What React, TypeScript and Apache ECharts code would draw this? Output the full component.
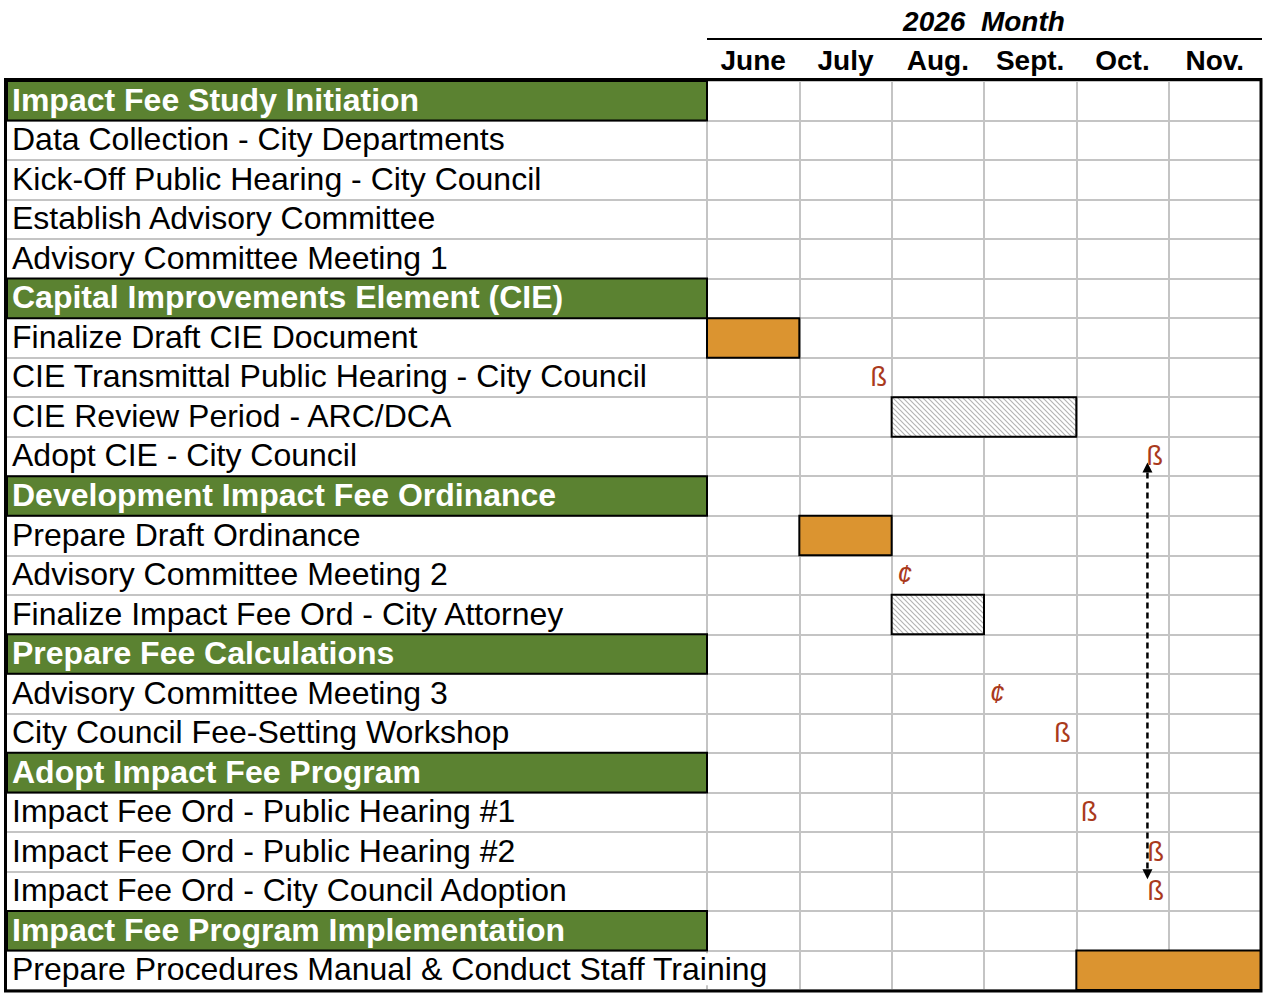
import React, { useEffect, useRef } from 'react';
import * as echarts from 'echarts';

const yearLabel = '2026  Month';
const months = ['June', 'July', 'Aug.', 'Sept.', 'Oct.', 'Nov.'];

const tasks = [
  'Impact Fee Study Initiation',
  'Data Collection - City Departments',
  'Kick-Off Public Hearing - City Council',
  'Establish Advisory Committee',
  'Advisory Committee Meeting 1',
  'Capital Improvements Element (CIE)',
  'Finalize Draft CIE Document',
  'CIE Transmittal Public Hearing - City Council',
  'CIE Review Period - ARC/DCA',
  'Adopt CIE - City Council',
  'Development Impact Fee Ordinance',
  'Prepare Draft Ordinance',
  'Advisory Committee Meeting 2',
  'Finalize Impact Fee Ord - City Attorney',
  'Prepare Fee Calculations',
  'Advisory Committee Meeting 3',
  'City Council Fee-Setting Workshop',
  'Adopt Impact Fee Program',
  'Impact Fee Ord - Public Hearing #1',
  'Impact Fee Ord - Public Hearing #2',
  'Impact Fee Ord - City Council Adoption',
  'Impact Fee Program Implementation',
  'Prepare Procedures Manual & Conduct Staff Training',
];

const phases = [
  'Impact Fee Study Initiation',
  'Capital Improvements Element (CIE)',
  'Development Impact Fee Ordinance',
  'Prepare Fee Calculations',
  'Adopt Impact Fee Program',
  'Impact Fee Program Implementation',
];

// bars: month offsets (0 = start of June)
const barTasks = [
  'Finalize Draft CIE Document',
  'CIE Review Period - ARC/DCA',
  'Prepare Draft Ordinance',
  'Finalize Impact Fee Ord - City Attorney',
  'Prepare Procedures Manual & Conduct Staff Training',
];
const barStart = [0, 2, 1, 2, 4];
const barEnd = [1, 4, 2, 3, 6];
const barKind = ['work', 'review', 'work', 'review', 'work'];

// milestone markers
const markerTasks = [
  'CIE Transmittal Public Hearing - City Council',
  'Adopt CIE - City Council',
  'Advisory Committee Meeting 2',
  'Advisory Committee Meeting 3',
  'City Council Fee-Setting Workshop',
  'Impact Fee Ord - Public Hearing #1',
  'Impact Fee Ord - Public Hearing #2',
  'Impact Fee Ord - City Council Adoption',
];
const markerMonth = [1.86, 4.85, 2.14, 3.14, 3.85, 4.14, 4.86, 4.86];
const markerGlyph = ['ß', 'ß', '¢', '¢', 'ß', 'ß', 'ß', 'ß'];

// dependency arrow
const arrowFrom = 'Adopt CIE - City Council';
const arrowTo = 'Impact Fee Ord - City Council Adoption';
const arrowMonth = 4.77;

const FONT = '"Liberation Sans", Arial, Helvetica, sans-serif';
const GREEN = '#5B8231';
const ORANGE = '#DB9430';
const MARK = '#AA3A1C';
const GRID = '#C4C4C4';

function makeHatch() {
  const s = 5;
  const c = document.createElement('canvas');
  c.width = s;
  c.height = s;
  const ctx = c.getContext('2d')!;
  ctx.fillStyle = '#ffffff';
  ctx.fillRect(0, 0, s, s);
  ctx.strokeStyle = '#b4b4b4';
  ctx.lineWidth = 1.2;
  ctx.beginPath();
  ctx.moveTo(-1, -1);
  ctx.lineTo(s + 1, s + 1);
  ctx.moveTo(-s - 1, -1);
  ctx.lineTo(1, s + 1);
  ctx.moveTo(s - 1, -1);
  ctx.lineTo(2 * s + 1, s + 1);
  ctx.stroke();
  return c;
}

export default function App() {
  const ref = useRef<HTMLDivElement>(null);

  useEffect(() => {
    document.body.style.margin = '0';
    if (!ref.current) return;
    const chart = echarts.init(ref.current, null, { renderer: 'svg' });
    const hatch = makeHatch();

    const labelData = tasks.map((t, i) => [0, i, phases.includes(t) ? 1 : 0]);
    const barData = barTasks.map((t, i) => [
      barStart[i],
      barEnd[i],
      tasks.indexOf(t),
      barKind[i] === 'review' ? 1 : 0,
    ]);
    const markerData = markerTasks.map((t, i) => [markerMonth[i], tasks.indexOf(t), i]);
    const arrowData = [[arrowMonth, tasks.indexOf(arrowFrom), tasks.indexOf(arrowTo)]];

    const option: any = {
      animation: false,
      backgroundColor: '#ffffff',
      grid: [
        { left: 7, top: 81, width: 700, bottom: 3 },
        { left: 707, top: 81, right: 2, bottom: 3 },
      ],
      xAxis: [
        { type: 'value', gridIndex: 0, min: 0, max: 1, show: false },
        {
          type: 'value',
          gridIndex: 1,
          min: 0,
          max: 6,
          interval: 1,
          axisLine: { show: false },
          axisTick: { show: false },
          axisLabel: { show: false },
          splitLine: { show: true, lineStyle: { color: GRID, width: 2 } },
        },
        {
          type: 'category',
          gridIndex: 1,
          data: months,
          position: 'top',
          axisLine: { show: false },
          axisTick: { show: false },
          splitLine: { show: false },
          axisLabel: {
            color: '#000',
            fontSize: 28,
            fontWeight: 'bold',
            fontFamily: FONT,
            margin: 21,
            verticalAlign: 'middle',
          },
        },
      ],
      yAxis: [
        {
          type: 'category',
          gridIndex: 0,
          data: tasks,
          inverse: true,
          axisLine: { show: false },
          axisTick: { show: false },
          axisLabel: { show: false },
          splitLine: { show: true, lineStyle: { color: GRID, width: 2 } },
        },
        {
          type: 'category',
          gridIndex: 1,
          data: tasks,
          inverse: true,
          axisLine: { show: false },
          axisTick: { show: false },
          axisLabel: { show: false },
          splitLine: { show: true, lineStyle: { color: GRID, width: 2 } },
        },
      ],
      series: [
        {
          type: 'custom',
          name: 'labels',
          xAxisIndex: 0,
          yAxisIndex: 0,
          clip: false,
          z: 3,
          data: labelData,
          encode: { x: 0, y: 1 },
          renderItem: (params: any, api: any) => {
            const idx = api.value(1);
            const isH = api.value(2) === 1;
            const p0 = api.coord([0, idx]);
            const p1 = api.coord([1, idx]);
            const h = api.size([0, 1])[1];
            const children: any[] = [];
            if (isH) {
              children.push({
                type: 'rect',
                shape: { x: p0[0], y: p0[1] - h / 2, width: p1[0] - p0[0], height: h },
                style: { fill: GREEN, stroke: '#000', lineWidth: 2 },
              });
            }
            children.push({
              type: 'text',
              x: p0[0] + 5,
              y: p0[1] - 1,
              style: {
                text: tasks[idx],
                fill: isH ? '#ffffff' : '#000000',
                fontSize: 32,
                fontWeight: isH ? 'bold' : 'normal',
                fontFamily: FONT,
                align: 'left',
                verticalAlign: 'middle',
                backgroundColor: isH ? undefined : '#ffffff',
              },
            });
            return { type: 'group', children };
          },
        },
        {
          type: 'custom',
          name: 'bars',
          xAxisIndex: 1,
          yAxisIndex: 1,
          z: 4,
          data: barData,
          encode: { x: [0, 1], y: 2 },
          renderItem: (params: any, api: any) => {
            const row = api.value(2);
            const s = api.coord([api.value(0), row]);
            const e = api.coord([api.value(1), row]);
            const h = api.size([0, 1])[1];
            const review = api.value(3) === 1;
            return {
              type: 'rect',
              shape: { x: s[0], y: s[1] - h / 2, width: e[0] - s[0], height: h },
              style: {
                fill: review
                  ? { image: hatch, repeat: 'repeat', imageWidth: 5, imageHeight: 5 }
                  : ORANGE,
                stroke: '#000',
                lineWidth: 2,
              },
            };
          },
        },
        {
          type: 'custom',
          name: 'markers',
          xAxisIndex: 1,
          yAxisIndex: 1,
          z: 6,
          data: markerData,
          encode: { x: 0, y: 1 },
          renderItem: (params: any, api: any) => {
            const p = api.coord([api.value(0), api.value(1)]);
            const g = markerGlyph[api.value(2)];
            return {
              type: 'text',
              x: p[0],
              y: p[1],
              style: {
                text: g,
                fill: MARK,
                fontSize: 27,
                fontStyle: g === '¢' ? 'italic' : 'normal',
                fontFamily: FONT,
                align: 'center',
                verticalAlign: 'middle',
              },
            };
          },
        },
        {
          type: 'custom',
          name: 'arrow',
          xAxisIndex: 1,
          yAxisIndex: 1,
          z: 5,
          data: arrowData,
          encode: { x: 0, y: 1 },
          renderItem: (params: any, api: any) => {
            const top = api.coord([api.value(0), api.value(1)]);
            const bot = api.coord([api.value(0), api.value(2)]);
            const h = api.size([0, 1])[1];
            const x = top[0];
            const y1 = top[1] + 0.15 * h;
            const y2 = bot[1] - 0.3 * h;
            const ah = 10;
            const aw = 5;
            return {
              type: 'group',
              children: [
                {
                  type: 'line',
                  shape: { x1: x, y1: y1 + ah, x2: x, y2: y2 - ah },
                  style: { stroke: '#000', lineWidth: 2.5, lineDash: [6, 4] },
                },
                {
                  type: 'polygon',
                  shape: { points: [[x, y1], [x - aw, y1 + ah], [x + aw, y1 + ah]] },
                  style: { fill: '#000' },
                },
                {
                  type: 'polygon',
                  shape: { points: [[x, y2], [x - aw, y2 - ah], [x + aw, y2 - ah]] },
                  style: { fill: '#000' },
                },
              ],
            };
          },
        },
      ],
      graphic: [
        {
          type: 'text',
          x: 984,
          y: 21,
          style: {
            text: yearLabel,
            fill: '#000',
            fontSize: 28,
            fontWeight: 'bold',
            fontStyle: 'italic',
            fontFamily: FONT,
            align: 'center',
            verticalAlign: 'middle',
          },
        },
        {
          type: 'line',
          shape: { x1: 707, y1: 39, x2: 1262, y2: 39 },
          style: { stroke: '#000', lineWidth: 2 },
        },
        {
          type: 'rect',
          z: 100,
          shape: { x: 5.5, y: 79.5, width: 1255.5, height: 911.5 },
          style: { fill: 'none', stroke: '#000', lineWidth: 3 },
        },
      ],
    };

    chart.setOption(option);
    return () => chart.dispose();
  }, []);

  return <div ref={ref} style={{ width: 1263, height: 993 }} />;
}
